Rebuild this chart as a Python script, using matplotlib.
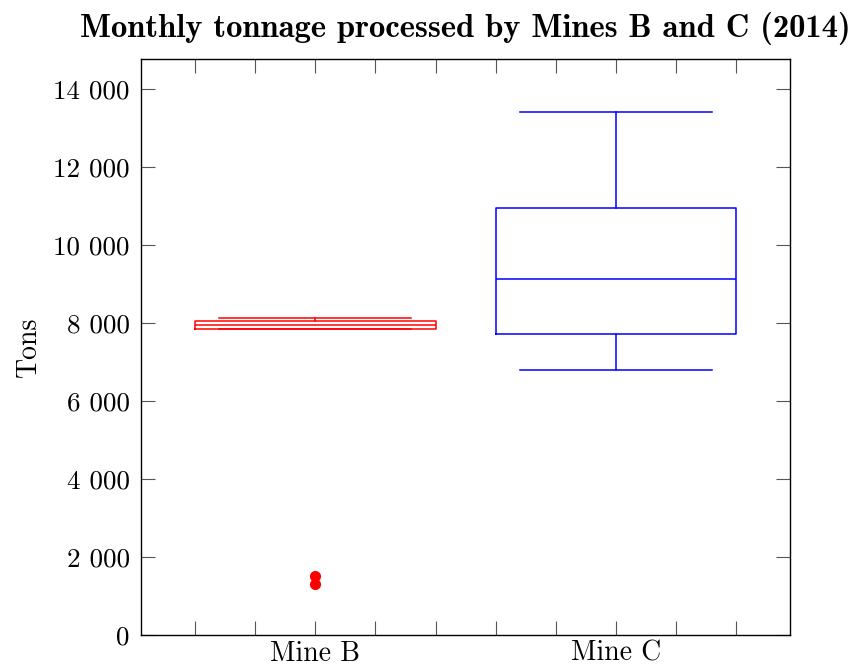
import matplotlib
matplotlib.use("Agg")
import matplotlib.pyplot as plt
from matplotlib.ticker import FuncFormatter, MultipleLocator, FixedLocator

# data
mines = ["Mine B", "Mine C"]
colors = ["#ff0000", "#0000ff"]
whislo = [7850, 6790]
q1 = [7860, 7710]
med = [7955, 9140]
q3 = [8066, 10960]
whishi = [8127, 13420]
fliers_b = [1515, 1305]
fliers_c = []

stats = []
for i, name in enumerate(mines):
    stats.append({
        "label": name,
        "whislo": whislo[i],
        "q1": q1[i],
        "med": med[i],
        "q3": q3[i],
        "whishi": whishi[i],
        "fliers": [fliers_b, fliers_c][i],
    })

plt.rcParams["font.family"] = "cmr10"
plt.rcParams["axes.formatter.use_mathtext"] = True

fig = plt.figure(figsize=(8.54, 6.66), dpi=100)
ax = fig.add_axes([0.1648, 0.0465, 0.7608, 0.8645])

for i, s in enumerate(stats):
    c = colors[i]
    ax.bxp(
        [s],
        positions=[i + 1],
        widths=0.8,
        capwidths=0.64,
        showfliers=True,
        boxprops=dict(color=c, linewidth=1.1),
        whiskerprops=dict(color=c, linewidth=1.1),
        capprops=dict(color=c, linewidth=1.1),
        medianprops=dict(color=c, linewidth=1.1),
        flierprops=dict(marker="o", markerfacecolor=c, markeredgecolor=c,
                        markersize=7, linestyle="none"),
    )

ax.set_xlim(0.42, 2.58)
ax.set_ylim(0, 14770)

# small ticks every 0.2, including the box positions
minor_pos = [0.6 + 0.2 * k for k in range(10)]
ax.set_xticks([1, 2])
ax.set_xticklabels(mines, fontsize=20)
ax.xaxis.set_minor_locator(FixedLocator(minor_pos))
ax.yaxis.set_major_locator(MultipleLocator(2000))
ax.yaxis.set_major_formatter(
    FuncFormatter(lambda v, p: f"{int(v):,}".replace(",", " "))
)

ax.tick_params(axis="both", which="both", direction="in",
               top=True, right=True, length=10, width=0.8, color="#555555")
ax.tick_params(axis="x", which="major", pad=4)
ax.tick_params(axis="y", labelsize=19.5, pad=8)

for sp in ax.spines.values():
    sp.set_linewidth(1.0)

ax.set_ylabel("Tons", fontsize=20, labelpad=8)
ax.set_title("Monthly tonnage processed by Mines B and C (2014)",
             fontsize=23.5, fontfamily="cmb10", pad=16)

fig.savefig("out.png", dpi=100)
